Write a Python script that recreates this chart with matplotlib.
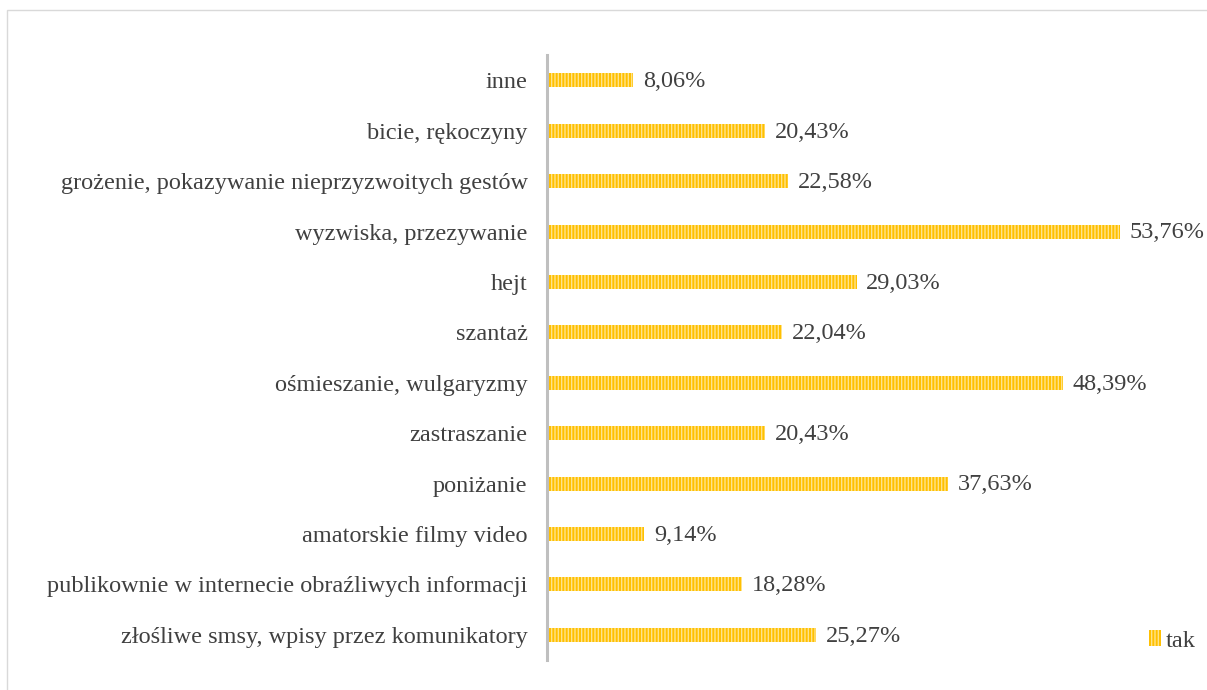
import matplotlib.pyplot as plt
from matplotlib.patches import Rectangle

categories = [
    "złośliwe smsy, wpisy przez komunikatory",
    "publikownie w internecie obraźliwych informacji",
    "amatorskie filmy video",
    "poniżanie",
    "zastraszanie",
    "ośmieszanie, wulgaryzmy",
    "szantaż",
    "hejt",
    "wyzwiska, przezywanie",
    "grożenie, pokazywanie nieprzyzwoitych gestów",
    "bicie, rękoczyny",
    "inne",
]
values = [25.27, 18.28, 9.14, 37.63, 20.43, 48.39, 22.04, 29.03, 53.76, 22.58, 20.43, 8.06]
series_name = "tak"

plt.rcParams["font.family"] = ["Liberation Serif", "DejaVu Serif"]
plt.rcParams["hatch.linewidth"] = 1.0

text_color = "#404040"
bar_color = "#FFC000"
stripe_color = "#FFE38A"

fig = plt.figure(figsize=(12.07, 6.9), dpi=100)
ax = fig.add_axes([0.4532, 0.0435, 0.53, 0.8765])

y = range(len(categories))
bars = ax.barh(y, values, height=0.28, color=bar_color, edgecolor=stripe_color,
               linewidth=0, hatch="|||||", label=series_name)

for bar, val in zip(bars, values):
    ax.annotate(f"{val:.2f}%".replace(".", ","),
                xy=(bar.get_width(), bar.get_y() + bar.get_height() / 2),
                xytext=(7, -1), textcoords="offset points",
                ha="left", va="center", fontsize=17.5, color=text_color)

ax.set_xlim(0, 60)
ax.set_ylim(-0.5, len(categories) - 0.5)
ax.set_yticks(list(y))
ax.set_yticklabels(categories, fontsize=17.5, color=text_color)
ax.tick_params(axis="y", length=0, pad=14)
ax.set_xticks([])
for side in ["top", "right", "bottom"]:
    ax.spines[side].set_visible(False)
ax.spines["left"].set_color("#BFBFBF")
ax.spines["left"].set_linewidth(2.2)

ax.legend(loc="lower left", bbox_to_anchor=(0.942, 0.038), bbox_transform=fig.transFigure,
          frameon=False, fontsize=17.5, handlelength=0.5, handleheight=0.65,
          handletextpad=0.2, borderpad=0, labelcolor=text_color)

fig.patches.append(Rectangle((0.0058, -0.05), 1.2, 0.9855 + 0.05, transform=fig.transFigure,
                             fill=False, edgecolor="#D9D9D9", linewidth=1.0))

plt.savefig("out.png", dpi=100)
